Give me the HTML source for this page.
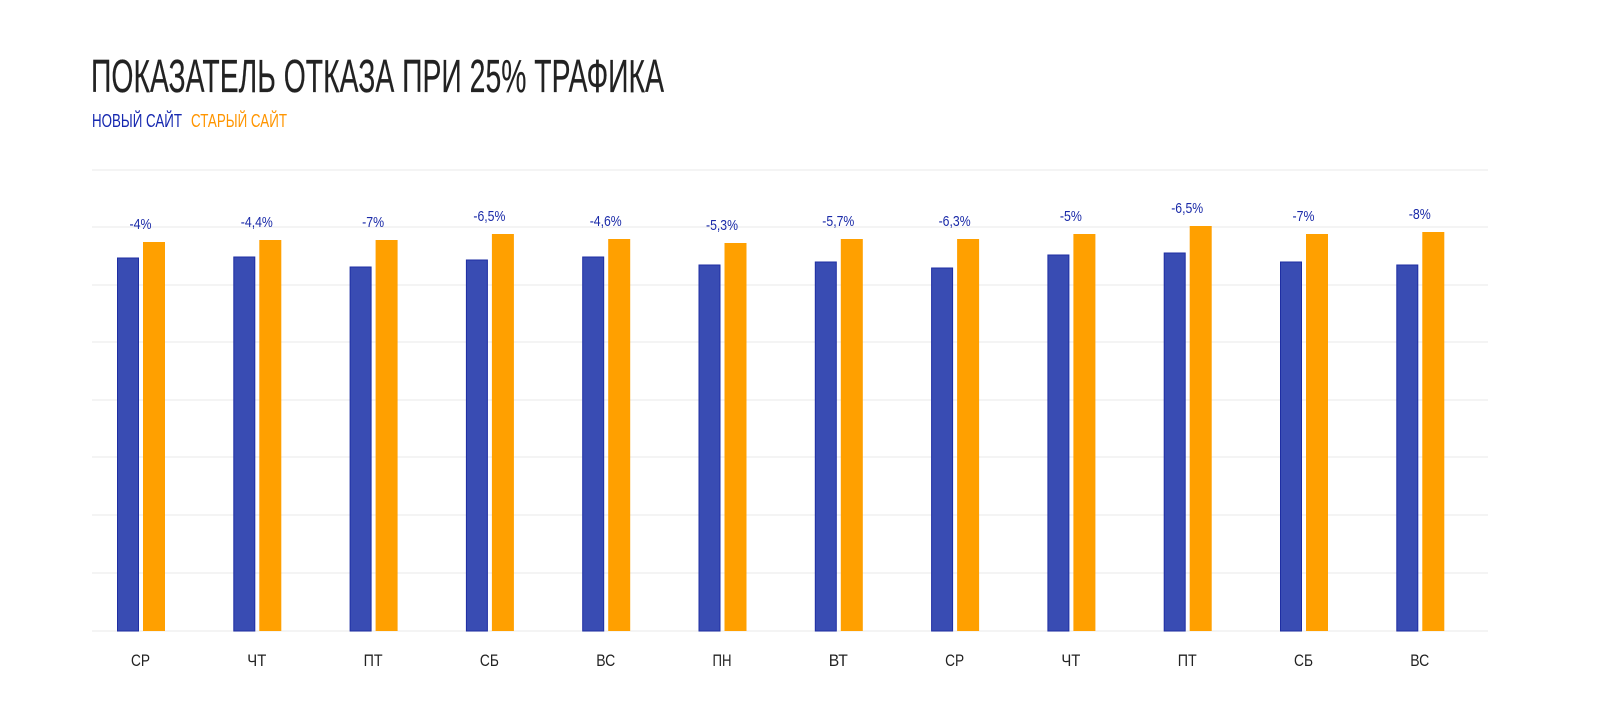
<!DOCTYPE html>
<html><head><meta charset="utf-8"><style>body{margin:0;background:#fff}svg{display:block}</style></head><body>
<svg width="1600" height="722" xmlns="http://www.w3.org/2000/svg" font-family="'Liberation Sans Narrow','Liberation Sans',sans-serif">
<text x="91" y="92" font-size="46" fill="#222" stroke="#222" stroke-width="0.2" textLength="573" lengthAdjust="spacingAndGlyphs">ПОКАЗАТЕЛЬ ОТКАЗА ПРИ 25% ТРАФИКА</text>
<text x="92" y="127" font-size="18" fill="#1628b0" textLength="90" lengthAdjust="spacingAndGlyphs">НОВЫЙ САЙТ</text>
<text x="191" y="127" font-size="18" fill="#ff9500" textLength="96" lengthAdjust="spacingAndGlyphs">СТАРЫЙ САЙТ</text>
<g stroke="#f0f0f0" stroke-width="1.5">
<line x1="92" x2="1488" y1="170" y2="170"/><line x1="92" x2="1488" y1="227" y2="227"/><line x1="92" x2="1488" y1="285" y2="285"/><line x1="92" x2="1488" y1="342" y2="342"/><line x1="92" x2="1488" y1="400" y2="400"/><line x1="92" x2="1488" y1="457" y2="457"/><line x1="92" x2="1488" y1="515" y2="515"/><line x1="92" x2="1488" y1="573" y2="573"/><line x1="92" x2="1488" y1="631" y2="631"/>
</g>
<g fill="#394cb3" stroke="#1e2ea3" stroke-width="1">
<rect x="117.5" y="258" width="21" height="373"/>
<rect x="233.8" y="257" width="21" height="374"/>
<rect x="350.1" y="267" width="21" height="364"/>
<rect x="466.4" y="260" width="21" height="371"/>
<rect x="582.7" y="257" width="21" height="374"/>
<rect x="699" y="265" width="21" height="366"/>
<rect x="815.3" y="262" width="21" height="369"/>
<rect x="931.6" y="268" width="21" height="363"/>
<rect x="1047.9" y="255" width="21" height="376"/>
<rect x="1164.2" y="253" width="21" height="378"/>
<rect x="1280.5" y="262" width="21" height="369"/>
<rect x="1396.8" y="265" width="21" height="366"/>
</g>
<g fill="#ffa000">
<rect x="143" y="242" width="22" height="389"/>
<rect x="259.3" y="240" width="22" height="391"/>
<rect x="375.6" y="240" width="22" height="391"/>
<rect x="491.9" y="234" width="22" height="397"/>
<rect x="608.2" y="239" width="22" height="392"/>
<rect x="724.5" y="243" width="22" height="388"/>
<rect x="840.8" y="239" width="22" height="392"/>
<rect x="957.1" y="239" width="22" height="392"/>
<rect x="1073.4" y="234" width="22" height="397"/>
<rect x="1189.7" y="226" width="22" height="405"/>
<rect x="1306" y="234" width="22" height="397"/>
<rect x="1422.3" y="232" width="22" height="399"/>
</g>
<g font-size="15" fill="#1a2aa8" text-anchor="middle" lengthAdjust="spacingAndGlyphs">
<text x="140.5" y="229" textLength="22" lengthAdjust="spacingAndGlyphs">-4%</text>
<text x="256.8" y="227" textLength="32" lengthAdjust="spacingAndGlyphs">-4,4%</text>
<text x="373.1" y="227" textLength="22" lengthAdjust="spacingAndGlyphs">-7%</text>
<text x="489.4" y="221" textLength="32" lengthAdjust="spacingAndGlyphs">-6,5%</text>
<text x="605.7" y="226" textLength="32" lengthAdjust="spacingAndGlyphs">-4,6%</text>
<text x="722" y="230" textLength="32" lengthAdjust="spacingAndGlyphs">-5,3%</text>
<text x="838.3" y="226" textLength="32" lengthAdjust="spacingAndGlyphs">-5,7%</text>
<text x="954.6" y="226" textLength="32" lengthAdjust="spacingAndGlyphs">-6,3%</text>
<text x="1070.9" y="221" textLength="22" lengthAdjust="spacingAndGlyphs">-5%</text>
<text x="1187.2" y="213" textLength="32" lengthAdjust="spacingAndGlyphs">-6,5%</text>
<text x="1303.5" y="221" textLength="22" lengthAdjust="spacingAndGlyphs">-7%</text>
<text x="1419.8" y="219" textLength="22" lengthAdjust="spacingAndGlyphs">-8%</text>
</g>
<g font-size="17" fill="#222" text-anchor="middle">
<text x="140.5" y="666" textLength="19" lengthAdjust="spacingAndGlyphs">СР</text>
<text x="256.8" y="666" textLength="19" lengthAdjust="spacingAndGlyphs">ЧТ</text>
<text x="373.1" y="666" textLength="19" lengthAdjust="spacingAndGlyphs">ПТ</text>
<text x="489.4" y="666" textLength="19" lengthAdjust="spacingAndGlyphs">СБ</text>
<text x="605.7" y="666" textLength="19" lengthAdjust="spacingAndGlyphs">ВС</text>
<text x="722" y="666" textLength="19" lengthAdjust="spacingAndGlyphs">ПН</text>
<text x="838.3" y="666" textLength="19" lengthAdjust="spacingAndGlyphs">ВТ</text>
<text x="954.6" y="666" textLength="19" lengthAdjust="spacingAndGlyphs">СР</text>
<text x="1070.9" y="666" textLength="19" lengthAdjust="spacingAndGlyphs">ЧТ</text>
<text x="1187.2" y="666" textLength="19" lengthAdjust="spacingAndGlyphs">ПТ</text>
<text x="1303.5" y="666" textLength="19" lengthAdjust="spacingAndGlyphs">СБ</text>
<text x="1419.8" y="666" textLength="19" lengthAdjust="spacingAndGlyphs">ВС</text>
</g>
</svg>
</body></html>
